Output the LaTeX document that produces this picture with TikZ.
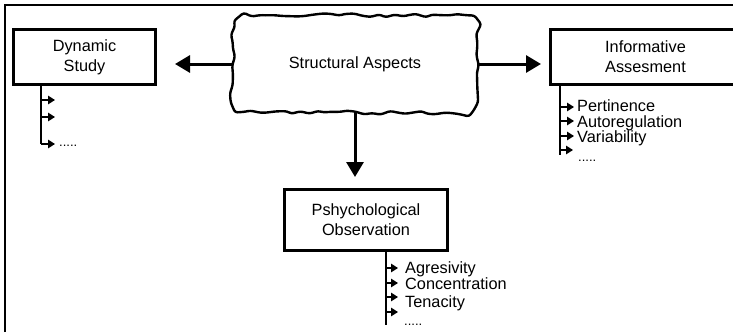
\documentclass[tikz,border=0pt]{standalone}
\usepackage{fontspec}
\setmainfont{Liberation Sans}
\usetikzlibrary{arrows.meta,decorations.pathmorphing}
\begin{document}
\begin{tikzpicture}[x=1pt,y=-1pt,
  txt/.style={font=\fontsize{16.3}{20}\selectfont},
  boxnode/.style={draw, line width=3pt, txt, align=center, inner sep=0pt},
  item/.style={txt, anchor=west, inner sep=0pt, text height=11.7pt, text depth=0pt},
  dots/.style={font=\fontsize{13}{13}\selectfont, anchor=base west, inner sep=0pt},
  bigarrow/.style={line width=3pt, -{Triangle[length=15pt,width=17pt]}},
  branch/.style={line width=1.4pt},
  smallarrow/.style={line width=1.4pt, -{Triangle[length=7pt,width=8.5pt]}},
  frameline/.style={line width=2pt},
  cloudline/.style={line width=2.4pt, line join=round, rounded corners=2.5pt, decorate,
    decoration={random steps, segment length=8pt, amplitude=2.2pt}}
]
\useasboundingbox (0,0) rectangle (733,332);
\pgfmathsetseed{11}
% frame
\coordinate (fbl) at (4.5,332);
\coordinate (ftl) at (4.5,5);
\coordinate (ftr) at (733,5);
\draw[frameline] (fbl) -- (ftl) -- (ftr);

% boxes
\node[boxnode, minimum width=142pt, minimum height=55pt] (dyn) at (84.5,57) {Dynamic\\Study};
\node[boxnode, minimum width=190pt, minimum height=55pt] (inf) at (645.5,57) {Informative\\Assesment};
\node[boxnode, minimum width=163pt, minimum height=61pt] (psy) at (366,220) {Pshychological\\Observation};

% cloud
\node[txt, minimum width=244pt, minimum height=97pt, inner sep=0pt] (cloud) at (355,64) {Structural Aspects};
\draw[cloudline]
  ([xshift=30pt]cloud.north west) -- ([xshift=-30pt]cloud.north east)
  .. controls (cloud.north east) .. ([yshift=-30pt]cloud.north east)
  -- ([yshift=30pt]cloud.south east)
  .. controls (cloud.south east) .. ([xshift=-30pt]cloud.south east)
  -- ([xshift=30pt]cloud.south west)
  .. controls (cloud.south west) .. ([yshift=30pt]cloud.south west)
  -- ([yshift=-30pt]cloud.north west)
  .. controls (cloud.north west) .. cycle;

% main arrows
\draw[bigarrow, shorten >=18pt] (cloud.west) -- (cloud.west -| dyn.east);
\draw[bigarrow, shorten >=8pt] (cloud.east) -- (cloud.east -| inf.west);
\draw[bigarrow, shorten >=11pt] (cloud.south) -- (cloud.south |- psy.north);

% Dynamic branch
\coordinate (dyn-b) at (41,86);
\coordinate (dyn-e) at (41,144);
\draw[branch] (dyn-b) -- (dyn-e);
\foreach \y [count=\i] in {100,117,144} {
  \coordinate (dyn-a\i) at (41,\y);
  \coordinate (dyn-t\i) at (55,\y);
  \draw[smallarrow] (dyn-a\i) -- (dyn-t\i);
}
\node[dots] (dyn-dots) at (59,146) {.....};

% Informative branch
\coordinate (inf-b) at (560,86);
\coordinate (inf-e) at (560,155);
\draw[branch] (inf-b) -- (inf-e);
\node[item] (inf-l1) at (577,106) {Pertinence};
\node[item] (inf-l2) at (577,121.5) {Autoregulation};
\node[item] (inf-l3) at (577,137) {Variability};
\foreach \y [count=\i] in {107,121,136} {
  \coordinate (inf-a\i) at (560,\y);
  \draw[smallarrow, shorten >=3pt] (inf-a\i) -- (inf-a\i -| inf-l\i.west);
}
\coordinate (inf-a4) at (560,150);
\coordinate (inf-t4) at (573,150);
\draw[smallarrow] (inf-a4) -- (inf-t4);
\node[dots] (inf-dots) at (578,161) {.....};

% Psychological branch
\coordinate (psy-b) at (386,252);
\coordinate (psy-e) at (386,325);
\draw[branch] (psy-b) -- (psy-e);
\node[item] (psy-l1) at (405,268) {Agresivity};
\node[item] (psy-l2) at (405,284) {Concentration};
\node[item] (psy-l3) at (405,302) {Tenacity};
\foreach \y [count=\i] in {268,283,297} {
  \coordinate (psy-a\i) at (386,\y);
  \draw[smallarrow, shorten >=7pt] (psy-a\i) -- (psy-a\i -| psy-l\i.west);
}
\coordinate (psy-a4) at (386,312);
\coordinate (psy-t4) at (398,312);
\draw[smallarrow] (psy-a4) -- (psy-t4);
\node[dots] (psy-dots) at (404,325) {.....};
\end{tikzpicture}
\end{document}
